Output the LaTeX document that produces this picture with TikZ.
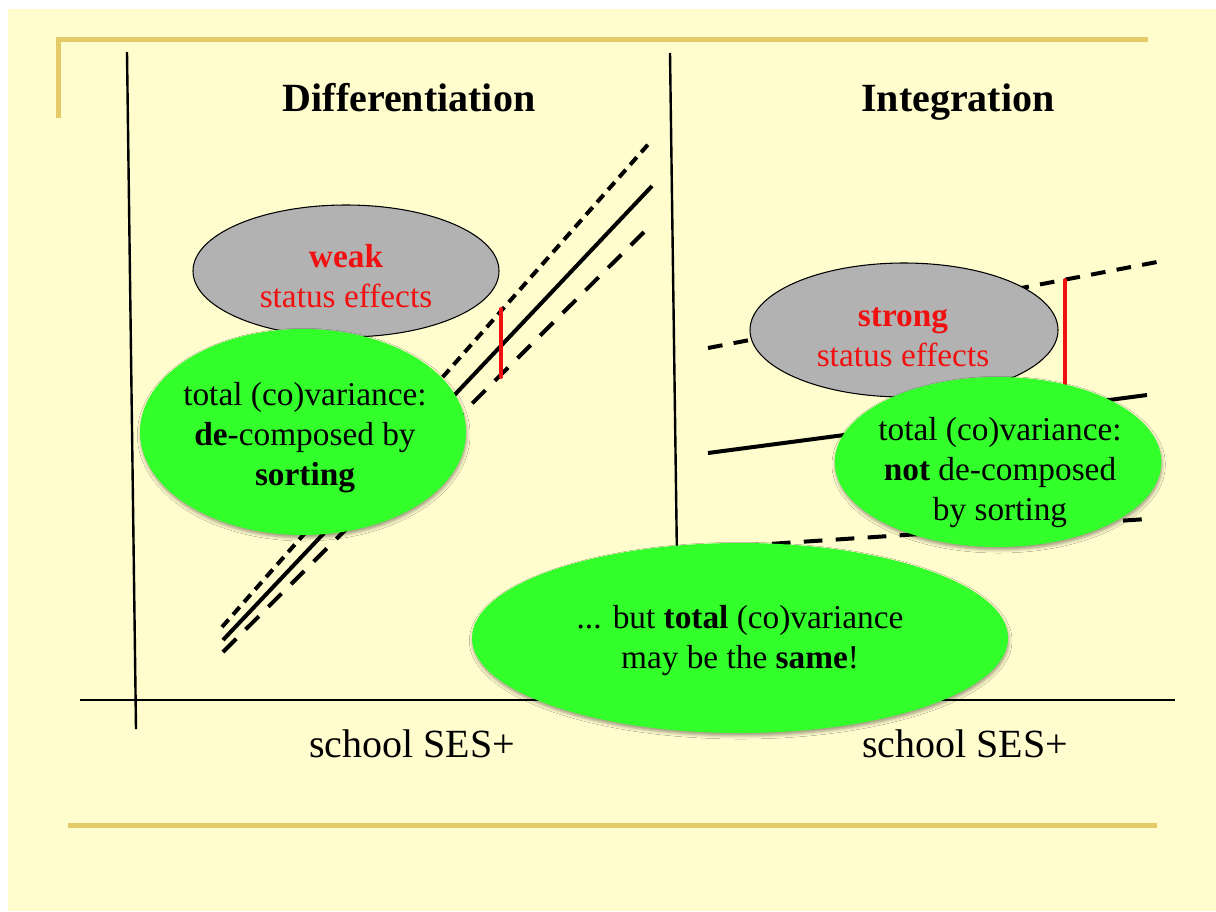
\documentclass[tikz,border=0pt]{standalone}
\usepackage{fontspec}
\setmainfont{Liberation Serif}
\usepackage{tikz}
\usetikzlibrary{shapes}
\usetikzlibrary{shadows.blur}

\definecolor{slidebg}{RGB}{255,252,206}
\definecolor{rulegold}{RGB}{228,202,104}
\definecolor{blobgreen}{RGB}{51,255,42}
\definecolor{blobgray}{RGB}{178,178,178}
\definecolor{effred}{RGB}{240,16,16}

\tikzset{
  greyblob/.style={ellipse, draw=black, line width=0.8pt, fill=blobgray, inner sep=0pt},
  greenblob/.style={ellipse, fill=blobgreen, inner sep=0pt,
    blur shadow={shadow xshift=0.5pt, shadow yshift=-2pt, shadow blur radius=2.5pt, shadow opacity=40}},
  blobtext/.style={align=center, inner sep=0.75pt, font=\fontsize{25}{30}\selectfont},
  headtext/.style={anchor=base, inner sep=0.75pt, font=\fontsize{30}{36}\selectfont\bfseries},
  axistext/.style={anchor=base, inner sep=0.75pt, font=\fontsize{30}{36}\selectfont},
  fitline/.style={line width=3pt},
  shortdash/.style={fitline, dash pattern=on 7.5pt off 5pt},
  middash/.style={fitline, dash pattern=on 11pt off 8.5pt},
  longdash/.style={fitline, dash pattern=on 14pt off 10pt},
  gap/.style={draw=effred, line width=2.8pt, line cap=round},
}

\begin{document}
\begin{tikzpicture}[x=0.75pt,y=0.75pt,yscale=-1,xscale=1]
\useasboundingbox (0,0) rectangle (1216,911);
\fill[white] (0,0) rectangle (1216,911);
\fill[slidebg] (8,9) rectangle (1216,911);

%Gold rules
\draw [rulegold, line width=3.75pt] (58,118) -- (58,39) -- (1148,39);
\draw [rulegold, line width=3.75pt] (68,825) -- (1157,825);

%Axes
\draw [line width=1.8pt] (127,52) -- (136,729);
\draw [line width=1.8pt] (670,53) -- (677,560);
\draw [line width=1.6pt] (80,700) -- (1175,700);

%Line ends, differentiation
\coordinate (dHiA) at (222,627);  \coordinate (dHiB) at (652,140);
\coordinate (dMdA) at (223,640);  \coordinate (dMdB) at (652,186);
\coordinate (dLoA) at (223,652);  \coordinate (dLoB) at (652,224);
%Line ends, integration
\coordinate (iHiA) at (708,348);  \coordinate (iHiB) at (1157,262);
\coordinate (iMdA) at (708,453);  \coordinate (iMdB) at (1147,395);
\coordinate (iLoA) at (708,548);  \coordinate (iLoB) at (1147,519);

%Straight Lines
\draw [shortdash] (dHiA) -- (dHiB);
\draw [fitline] (dMdA) -- (dMdB);
\draw [longdash] (dLoA) -- (dLoB);
\draw [middash] (iHiA) -- (iHiB);
\draw [fitline] (iMdA) -- (iMdB);
\draw [longdash] (iLoA) -- (iLoB);

%Red gaps
\coordinate (gapLa) at (501,309); \coordinate (gapLb) at (501,377);
\coordinate (gapRa) at (1065,280); \coordinate (gapRb) at (1065,406);
\draw [gap] (gapLa) -- (gapLb);
\draw [gap] (gapRa) -- (gapRb);

% Text Node
\node [headtext] (diffHead) at (409,111) {Differentiation};
% Text Node
\node [headtext] (integHead) at (958,111) {Integration};

%Shape: Ellipse
\node [greyblob, minimum width=229.5pt, minimum height=99pt] (weakBlob) at (346,271) {};
\node [blobtext] (weakTxt) at (346,276) {\textcolor{effred}{\textbf{weak}}\\\textcolor{effred}{status effects}};
%Shape: Ellipse
\node [greyblob, minimum width=231pt, minimum height=100.5pt] (strongBlob) at (904,330) {};
\node [blobtext] (strongTxt) at (903,337) {\textcolor{effred}{\textbf{strong}}\\\textcolor{effred}{status effects}};

%Shape: Ellipse
\node [greenblob, minimum width=244.5pt, minimum height=154.5pt] (sortBlob) at (303,432) {};
\node [blobtext] (sortTxt) at (305,438) {total (co)variance:\\\textbf{de}-composed by\\\textbf{sorting}};
%Shape: Ellipse
\node [greenblob, minimum width=245pt, minimum height=127.5pt] (nosortBlob) at (998,462) {};
\node [blobtext] (nosortTxt) at (1000,473) {total (co)variance:\\\textbf{not} de-composed\\by sorting};

% Text Node
\node [axistext] (sesLeft) at (412,757) {school SES+};
% Text Node
\node [axistext] (sesRight) at (965,757) {school SES+};

%Shape: Ellipse
\node [greenblob, minimum width=402pt, minimum height=142.5pt] (sameBlob) at (740,638) {};
\node [blobtext] (sameTxt) at (740,641) {... but \textbf{total} (co)variance\\may be the \textbf{same}!};

\end{tikzpicture}
\end{document}
